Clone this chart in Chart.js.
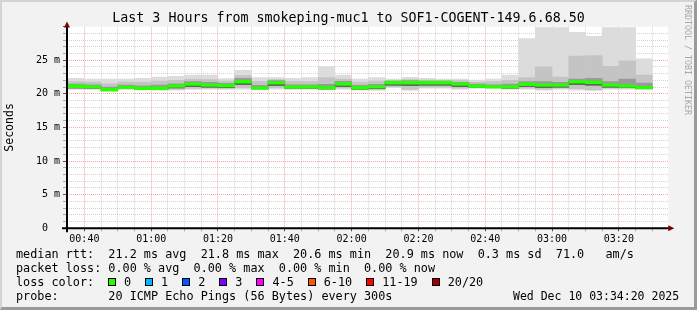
<!DOCTYPE html>
<html>
<head>
<meta charset="utf-8">
<title>smokeping</title>
<script src="https://cdn.jsdelivr.net/npm/chart.js@4.4.1/dist/chart.umd.min.js"></script>
<style>
  html, body { margin: 0; padding: 0; background: #f2f2f2; }
  #frame { position: relative; width: 697px; height: 310px; overflow: hidden; }
  #chart { position: absolute; left: 0; top: 0; }
  #edge {
    position: absolute; left: 0; top: 0; width: 697px; height: 310px; box-sizing: border-box;
    border-style: solid; border-width: 2px 3px 3px 2px;
    border-color: #d4d4d4 #9a9a9a #9a9a9a #d4d4d4; pointer-events: none;
  }
  .txt { position: absolute; font: 11.8px 'DejaVu Sans Mono', monospace; color: #000; white-space: pre; line-height: 14px; }
  #lossRow { position: absolute; left: 108px; top: 275px; height: 14px; display: flex; align-items: center;
    font: 11.8px 'DejaVu Sans Mono', monospace; white-space: pre; }
  .box { display: inline-block; width: 6px; height: 6px; border: 1px solid #000; margin-right: 8px; }
  .lbl { margin-right: 14px; }
  #rrdtag { position: absolute; left: 683px; top: 5px; writing-mode: vertical-rl; font: 8.3px 'DejaVu Sans Mono', monospace;
    line-height: 10px; color: #a8a8a8; white-space: pre; }
</style>
</head>
<body>
<div id="frame">
  <canvas id="chart" width="697" height="310"></canvas>
  <div class="txt" style="left:16px; top:247px;">median rtt:  21.2 ms avg  21.8 ms max  20.6 ms min  20.9 ms now  0.3 ms sd  71.0   am/s</div>
  <div class="txt" style="left:16px; top:261px;">packet loss: 0.00 % avg  0.00 % max  0.00 % min  0.00 % now</div>
  <div class="txt" style="left:16px; top:275px;">loss color:</div>
  <div id="lossRow"></div>
  <div class="txt" style="left:16px; top:289px;">probe:       20 ICMP Echo Pings (56 Bytes) every 300s</div>
  <div class="txt" style="left:513px; top:289px; font-size:11.5px;">Wed Dec 10 03:34:20 2025</div>
  <div id="rrdtag">RRDTOOL / TOBI OETIKER</div>
  <div id="edge"></div>
</div>
<script>
// 5 minute slots (start time), the first one is only partly visible
const slots = ['00:30','00:35','00:40','00:45','00:50','00:55','01:00','01:05','01:10','01:15','01:20','01:25',
               '01:30','01:35','01:40','01:45','01:50','01:55','02:00','02:05','02:10','02:15','02:20','02:25',
               '02:30','02:35','02:40','02:45','02:50','02:55','03:00','03:05','03:10','03:15','03:20','03:25'];

// rtt in ms
const median  = [21.45,21.12,21.02,20.60,20.95,20.82,20.82,21.14,21.44,21.30,21.24,21.80,
                 20.85,21.62,21.00,21.02,20.90,21.46,20.90,21.04,21.64,21.64,21.64,21.64,
                 21.44,21.14,21.02,21.02,21.42,21.30,21.30,21.78,21.68,21.30,21.14,20.92];
const lowest  = [20.70,20.65,20.65,20.45,20.65,20.60,20.55,20.55,20.65,20.70,20.65,20.70,
                 20.65,20.70,20.65,20.70,20.60,20.70,20.55,20.50,20.90,20.50,20.85,20.85,
                 20.70,20.85,20.85,20.70,20.70,20.55,20.70,20.55,20.45,20.70,20.70,20.70];
const q10     = [20.82,20.78,20.76,20.50,20.76,20.70,20.66,20.70,20.80,20.82,20.80,20.90,
                 20.72,20.90,20.76,20.80,20.70,20.88,20.66,20.66,21.05,20.70,21.00,21.00,
                 20.85,20.92,20.90,20.80,20.85,20.70,20.82,20.75,20.60,20.85,20.82,20.78];
const q25     = [21.15,20.88,20.82,20.52,20.80,20.72,20.70,20.86,21.10,21.00,20.95,21.40,
                 20.75,21.25,20.82,20.85,20.72,21.10,20.70,20.75,21.30,21.25,21.30,21.30,
                 21.10,20.98,20.92,20.85,21.10,20.95,21.00,21.40,21.30,21.00,20.90,20.80];
const q75     = [21.75,21.45,21.35,21.00,21.30,21.20,21.30,21.50,21.80,21.70,21.55,22.30,
                 21.25,21.95,21.35,21.35,21.40,21.85,21.25,21.40,21.90,21.95,21.90,21.90,
                 21.70,21.45,21.35,21.45,21.80,21.80,21.70,22.20,22.30,21.80,22.20,21.60];
const q90     = [21.95,21.80,21.75,21.50,21.75,21.70,21.90,22.00,22.15,22.10,21.90,22.70,
                 21.85,22.10,21.85,21.80,22.40,22.20,21.70,21.90,22.00,22.10,22.05,22.00,
                 21.95,21.70,21.80,22.00,22.40,24.00,22.50,25.60,25.70,24.10,24.90,22.80];
const highest = [22.30,22.30,22.20,22.20,22.20,22.30,22.50,22.60,22.80,22.80,22.25,23.50,
                 22.40,22.40,22.30,22.40,24.00,22.80,22.20,22.40,22.20,22.45,22.30,22.20,
                 22.20,22.05,22.20,22.80,28.20,29.85,29.85,29.15,28.55,29.85,29.85,25.20];

const xTickLabels = ['00:40','01:00','01:20','01:40','02:00','02:20','02:40','03:00','03:20'];
const yTickLabels = ['0  ','5 m','10 m','15 m','20 m','25 m'];

const lossLabels = ['0','1','2','3','4-5','6-10','11-19','20/20'];
const lossColors = ['#26ff00','#00b8ff','#0059ff','#7e00ff','#ff00ff','#ff5500','#ff0000','#a10000'];

const MONO = "'DejaVu Sans Mono', monospace";
const GRID_RED = 'rgba(255,0,0,0.35)';
const GRID_GRAY = 'rgba(128,128,128,0.35)';

// legend boxes
const row = document.getElementById('lossRow');
lossLabels.forEach((l, i) => {
  const b = document.createElement('span');
  b.className = 'box';
  b.style.background = lossColors[i];
  const t = document.createElement('span');
  t.className = 'lbl';
  t.textContent = l;
  row.appendChild(b);
  row.appendChild(t);
});

function toMin(hhmm) {
  const [h, m] = hhmm.split(':').map(Number);
  return h * 60 + m;
}
function fmt(min) {
  const h = Math.floor(min / 60), m = Math.round(min % 60);
  return String(h).padStart(2, '0') + ':' + String(m).padStart(2, '0');
}

const centers = slots.map(s => toMin(s) + 2.5);
function band(lo, hi) {
  return centers.map((x, i) => ({ x, y: [lo[i], hi[i]] }));
}

const medianThick = 0.2; // half thickness of the median line in ms

function barSet(label, data, color) {
  return {
    label, data, backgroundColor: color, borderWidth: 0,
    barPercentage: 1, categoryPercentage: 1, grouped: false, clip: 0
  };
}

const minorTicks = [];
for (let v = 35; v <= 210; v += 5) minorTicks.push(v);
const yTicks = [];
for (let v = 0; v <= 30; v += 1) yTicks.push(v);

const plotDecor = {
  id: 'plotDecor',
  beforeDraw(chart) {
    const { ctx, chartArea: a } = chart;
    ctx.save();
    ctx.fillStyle = '#ffffff';
    ctx.fillRect(a.left, a.top, a.right - a.left, a.bottom - a.top);
    ctx.restore();
  },
  afterDraw(chart) {
    const { ctx, chartArea: a } = chart;
    ctx.save();
    ctx.strokeStyle = '#000';
    ctx.lineWidth = 2;
    ctx.beginPath();
    ctx.moveTo(a.left - 5, a.bottom); ctx.lineTo(a.right + 2, a.bottom);
    ctx.moveTo(a.left, a.bottom + 4); ctx.lineTo(a.left, a.top);
    ctx.stroke();
    ctx.fillStyle = '#800000';
    ctx.beginPath();
    ctx.moveTo(a.right + 6, a.bottom); ctx.lineTo(a.right, a.bottom - 3); ctx.lineTo(a.right, a.bottom + 3);
    ctx.closePath(); ctx.fill();
    ctx.beginPath();
    ctx.moveTo(a.left, a.top - 5); ctx.lineTo(a.left - 3, a.top + 1); ctx.lineTo(a.left + 3, a.top + 1);
    ctx.closePath(); ctx.fill();
    ctx.restore();
  }
};

new Chart(document.getElementById('chart'), {
  type: 'bar',
  data: {
    datasets: [
      barSet('median', centers.map((x, i) => ({ x, y: [median[i] - medianThick, median[i] + medianThick] })), '#26ff00'),
      barSet('core', band(q25, median), '#505050'),
      barSet('q25-q75', band(q25, q75), '#9a9a9a'),
      barSet('q10-q90', band(q10, q90), '#c4c4c4'),
      barSet('min-max', band(lowest, highest), '#dcdcdc')
    ]
  },
  options: {
    responsive: false,
    animation: false,
    layout: { padding: { left: 28.7, right: 28.7, top: 0, bottom: 0 } },
    plugins: {
      legend: { display: false },
      tooltip: { enabled: false },
      title: {
        display: true,
        text: 'Last 3 Hours from smokeping-muc1 to SOF1-COGENT-149.6.68.50',
        color: '#000',
        font: { family: MONO, size: 13.3, weight: 'normal' },
        padding: { top: 10.6, bottom: 0 }
      }
    },
    scales: {
      x: {
        type: 'linear',
        offset: false,
        min: 34.8,
        max: 214.8,
        z: 1,
        afterBuildTicks: s => { s.ticks = minorTicks.map(v => ({ value: v })); },
        afterFit: s => { s.height = 81.7; },
        border: { display: false, dash: [1, 1] },
        grid: {
          offset: false,
          color: c => (c.tick && c.tick.value % 20 === 0) ? GRID_RED : GRID_GRAY,
          lineWidth: 1,
          tickLength: 3,
          tickColor: c => (c.tick && c.tick.value % 20 === 0) ? '#555' : '#aaa',
          tickBorderDash: []
        },
        ticks: {
          autoSkip: false,
          maxRotation: 0,
          padding: 2,
          color: '#000',
          font: { family: MONO, size: 10 },
          callback: v => xTickLabels.includes(fmt(v)) ? fmt(v) : ''
        }
      },
      y: {
        min: 0,
        max: 30,
        z: 1,
        afterBuildTicks: s => { s.ticks = yTicks.map(v => ({ value: v })); },
        afterFit: s => { s.width = 38.3; },
        border: { display: false, dash: [1, 1] },
        grid: {
          color: c => {
            const v = c.tick ? c.tick.value : 0;
            if (v === 30) return 'rgba(0,0,0,0)';
            return v % 5 === 0 ? GRID_RED : GRID_GRAY;
          },
          lineWidth: 1,
          tickLength: 4,
          tickColor: c => (c.tick && c.tick.value % 5 === 0) ? '#555' : '#aaa',
          tickBorderDash: []
        },
        ticks: {
          autoSkip: false,
          padding: 3,
          color: '#000',
          font: { family: MONO, size: 10 },
          callback: v => (v % 5 === 0 && v < 30) ? yTickLabels[v / 5] : ''
        },
        title: {
          display: true,
          text: 'Seconds',
          color: '#000',
          font: { family: MONO, size: 11.5 },
          padding: { top: -25.6, bottom: 0 }
        }
      }
    }
  },
  plugins: [plotDecor]
});
</script>
</body>
</html>
